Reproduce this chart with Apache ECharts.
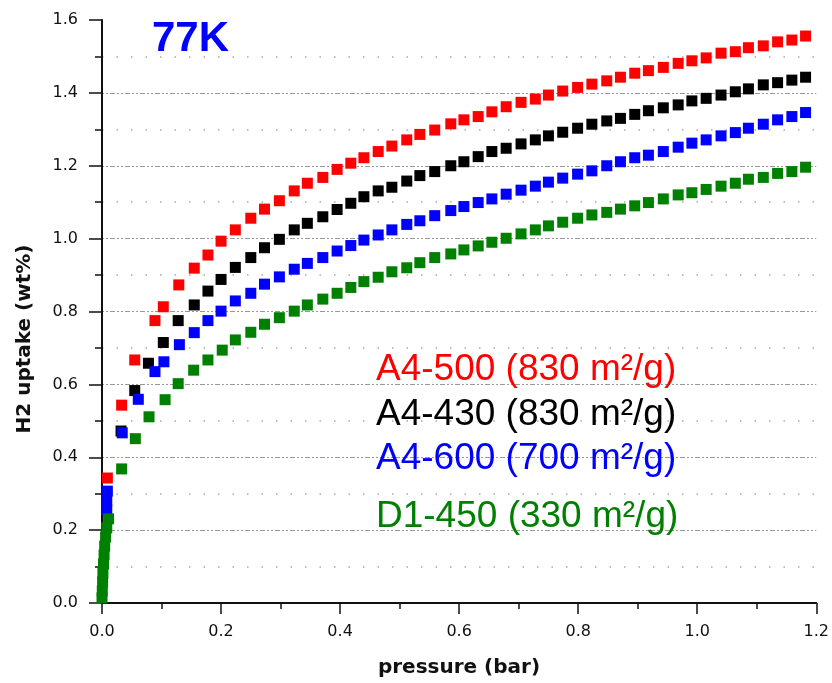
<!DOCTYPE html>
<html>
<head>
<meta charset="utf-8">
<script src="https://cdn.jsdelivr.net/npm/echarts@6/dist/echarts.min.js"></script>
<style>html,body{margin:0;padding:0;background:#fff}#c{width:832px;height:683px}</style>
</head>
<body>
<div id="c"></div>
<script>
// Shared pressures (bar) of the regularly spaced part of the isotherms
const sharedPressure = [0.224,0.250,0.273,0.298,0.323,0.345,0.371,0.395,0.418,0.440,0.464,0.487,0.512,0.534,0.559,0.586,0.608,0.632,0.655,0.679,0.704,0.728,0.750,0.774,0.799,0.823,0.848,0.871,0.895,0.918,0.943,0.968,0.991,1.015,1.040,1.064,1.086,1.111,1.135,1.159,1.182];

// Low-pressure points [pressure, uptake]
const a4_500_low = [[0.009,0.343],[0.033,0.543],[0.055,0.667],[0.089,0.775],[0.103,0.813],[0.129,0.873],[0.155,0.919],[0.178,0.955],[0.200,0.993]];
const a4_430_low = [[0.032,0.472],[0.055,0.583],[0.078,0.658],[0.103,0.715],[0.128,0.775],[0.155,0.818],[0.178,0.856],[0.200,0.888]];
const a4_600_low = [[0.008,0.255],[0.008,0.280],[0.009,0.307],[0.034,0.467],[0.061,0.559],[0.089,0.635],[0.104,0.662],[0.130,0.709],[0.155,0.742],[0.178,0.775],[0.200,0.801]];
const d1_450_low = [[0,0.014],[0.0005,0.033],[0.001,0.058],[0.0015,0.082],[0.0025,0.107],[0.0035,0.132],[0.0045,0.156],[0.006,0.181],[0.008,0.206],[0.011,0.231],[0.033,0.368],[0.056,0.451],[0.079,0.511],[0.106,0.558],[0.128,0.602],[0.154,0.639],[0.178,0.667],[0.202,0.694]];

// Uptake (wt%) at sharedPressure
const a4_500_high = [1.024,1.056,1.081,1.104,1.131,1.152,1.168,1.190,1.207,1.222,1.239,1.254,1.271,1.286,1.298,1.315,1.326,1.335,1.348,1.362,1.374,1.383,1.394,1.405,1.415,1.424,1.433,1.443,1.454,1.461,1.470,1.481,1.488,1.496,1.509,1.513,1.524,1.529,1.540,1.545,1.556];
const a4_430_high = [0.921,0.948,0.975,0.998,1.024,1.042,1.060,1.080,1.097,1.115,1.131,1.141,1.158,1.173,1.184,1.200,1.211,1.225,1.239,1.248,1.260,1.271,1.282,1.292,1.303,1.314,1.323,1.330,1.341,1.351,1.359,1.367,1.378,1.385,1.394,1.403,1.411,1.422,1.428,1.435,1.443];
const a4_600_high = [0.829,0.850,0.875,0.895,0.916,0.932,0.948,0.966,0.981,0.996,1.010,1.024,1.039,1.049,1.063,1.077,1.088,1.099,1.109,1.122,1.133,1.144,1.155,1.166,1.177,1.186,1.200,1.211,1.222,1.229,1.239,1.251,1.262,1.271,1.282,1.291,1.303,1.314,1.326,1.335,1.346];
const d1_450_high = [0.722,0.743,0.765,0.783,0.801,0.818,0.834,0.850,0.866,0.882,0.894,0.909,0.920,0.934,0.948,0.958,0.969,0.980,0.990,1.001,1.013,1.024,1.035,1.045,1.056,1.065,1.072,1.081,1.090,1.099,1.109,1.120,1.126,1.135,1.144,1.152,1.163,1.168,1.179,1.184,1.196];

const seriesNames = ['A4-500 (830 m²/g)','A4-430 (830 m²/g)','A4-600 (700 m²/g)','D1-450 (330 m²/g)'];
const seriesColors = ['#ff0000','#000000','#0000ff','#008000'];
const xTicks = [0,0.2,0.4,0.6,0.8,1.0,1.2];
const yTicks = [0,0.2,0.4,0.6,0.8,1.0,1.2,1.4,1.6];
const titleText = '77K';
const xTitle = 'pressure (bar)';
const yTitle = 'H2 uptake (wt%)';

function build(low, high){ return low.concat(sharedPressure.map((p,i)=>[p, high[i]])); }
const allData = [build(a4_500_low,a4_500_high), build(a4_430_low,a4_430_high), build(a4_600_low,a4_600_high), build(d1_450_low,d1_450_high)];

const chart = echarts.init(document.getElementById('c'), null, {renderer:'canvas'});
const axisFont = {fontFamily:'DejaVu Sans', fontSize:16, color:'#111'};
const legendY = [370, 415, 459, 517];

chart.setOption({
  animation:false,
  backgroundColor:'#fff',
  grid:{left:102, right:13, top:20, bottom:80},
  xAxis:{
    type:'value', min:xTicks[0], max:xTicks[xTicks.length-1], interval:0.2,
    axisLine:{show:true, onZero:false, lineStyle:{color:'#111', width:2}},
    axisTick:{show:true, length:11, lineStyle:{color:'#111', width:1.5}},
    minorTick:{show:true, splitNumber:2, length:6, lineStyle:{color:'#111', width:1.5}},
    axisLabel:Object.assign({margin:21, formatter:v=>v.toFixed(1)}, axisFont),
    splitLine:{show:false}
  },
  yAxis:{
    type:'value', min:yTicks[0], max:yTicks[yTicks.length-1], interval:0.2,
    axisLine:{show:true, lineStyle:{color:'#111', width:2}},
    axisTick:{show:true, length:13, lineStyle:{color:'#111', width:1.5}},
    minorTick:{show:true, splitNumber:2, length:7, lineStyle:{color:'#111', width:1.5}},
    axisLabel:Object.assign({margin:24, formatter:v=>v.toFixed(1)}, axisFont),
    splitLine:{show:true, showMinLine:false, showMaxLine:false, lineStyle:{color:'#999', width:1.2, type:[2,2,2,2,5,2]}},
    minorSplitLine:{show:true, lineStyle:{color:'#aaa', width:1.5, type:[1.5,13]}}
  },
  series: allData.map((d,i)=>({
    name:seriesNames[i], type:'scatter', data:d, symbol:'rect', symbolSize:11,
    itemStyle:{color:seriesColors[i], opacity:1}, z:2+i
  })),
  graphic:[
    {type:'text', left:152, top:18, z:10, style:{text:titleText, font:'bold 42px "Liberation Sans", Arial', fill:'#0000ff'}},
    {type:'text', x:459, y:668, z:10, style:{text:xTitle, font:'bold 20px "DejaVu Sans"', fill:'#111', textAlign:'center', textVerticalAlign:'middle'}},
    {type:'text', x:25, y:339, rotation:Math.PI/2, z:10, style:{text:yTitle, font:'bold 20px "DejaVu Sans"', fill:'#111', textAlign:'center', textVerticalAlign:'middle'}}
  ].concat(seriesNames.map((n,i)=>({
    type:'text', x:376, y:legendY[i], z:10,
    style:{text:n, font:'37px "Liberation Sans", Arial', fill:seriesColors[i], textAlign:'left', textVerticalAlign:'middle'}
  })))
});
</script>
</body>
</html>
